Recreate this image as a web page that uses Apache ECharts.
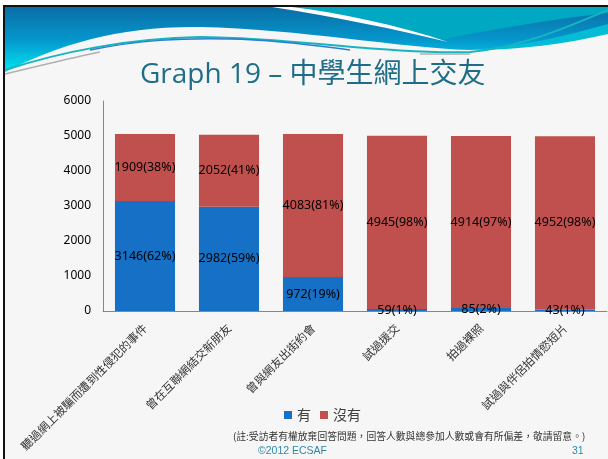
<!DOCTYPE html>
<html>
<head>
<meta charset="utf-8">
<title>Graph 19</title>
<script src="https://cdn.jsdelivr.net/npm/echarts@6/dist/echarts.min.js"></script>
<style>
  html, body { margin: 0; padding: 0; background: #fff; }
  #chart { width: 608px; height: 459px; }
</style>
</head>
<body>
<div id="chart"></div>
<script>
// categories (x axis)
const categories = [
  '聽過網上被騙而遭到性侵犯的事件',
  '曾在互聯網結交新朋友',
  '曾與網友出街約會',
  '試過援交',
  '拍過裸照',
  '試過與伴侶拍情慾短片'
]
// 有
const yesValues = [3146, 2982, 972, 59, 85, 43]
const yesPct = [62, 59, 19, 1, 2, 1]
// 沒有
const noValues = [1909, 2052, 4083, 4945, 4914, 4952]
const noPct = [38, 41, 81, 98, 97, 98]

const numFont = "'Noto Sans', 'Noto Sans CJK TC', sans-serif"
const cjkFont = "'Noto Sans CJK TC', 'Noto Sans', sans-serif"

// header decoration shapes (svg path data)
const wavePaths = {
  waveBand: 'M5 7 L608 7 L608 26 C560 38 520 48 470 50 C400 48 300 29 200 27 C120 26 60 44 5 72 Z',
  waveTeal: 'M283 7 L608 7 L608 13 C545 20 490 30 440 40 C395 28 340 15 283 7 Z',
  waveStreak: 'M272 7 C335 17 395 29 448 42 C398 25 340 13 292 7 Z',
  waveLow: 'M470 50 C520 47 565 36 608 24 L608 34 C565 44 520 50 470 50 Z',
  lineTeal: 'M5 70 C60 52 130 38 200 37 C300 38 380 54 470 52 C520 48 570 26 608 10',
  lineBlue: 'M90 50 C140 40 180 38 230 39 C280 40 320 46 350 50',
  lineGrayL: 'M5 74 C40 66 70 58 100 52',
  lineGrayR: 'M420 54 L470 54'
}
Object.keys(wavePaths).forEach(function(k) {
  echarts.graphic.registerShape(k, echarts.graphic.extendPath(wavePaths[k], {}))
})

const chart = echarts.init(document.getElementById('chart'))

function pctLabel(pcts) {
  return function(p) {
    return p.value + '(' + pcts[p.dataIndex] + '%)'
  }
}

chart.setOption({
  backgroundColor: '#f6f6f6',
  animation: false,
  title: {
    text: 'Graph 19 – 中學生網上交友',
    left: 135,
    top: 56,
    textStyle: {
      fontFamily: "'Open Sans', 'Noto Sans CJK TC', sans-serif",
      fontSize: 28,
      fontWeight: 'normal',
      color: '#1f6d88'
    }
  },
  legend: {
    data: ['有', '沒有'],
    left: 279,
    top: 403,
    icon: 'rect',
    itemWidth: 8,
    itemHeight: 8,
    itemGap: 9,
    textStyle: { fontFamily: cjkFont, fontSize: 14, color: '#404040' }
  },
  grid: {
    left: 103,
    right: 1,
    top: 101,
    bottom: 148
  },
  xAxis: {
    type: 'category',
    data: categories,
    axisLine: { lineStyle: { color: '#868686' } },
    axisTick: { show: false },
    axisLabel: {
      interval: 0,
      rotate: 45,
      margin: 15,
      fontFamily: cjkFont,
      fontSize: 11.5,
      color: '#333'
    }
  },
  yAxis: {
    type: 'value',
    min: 0,
    max: 6000,
    interval: 1000,
    axisLine: { show: true, lineStyle: { color: '#868686' } },
    axisTick: { show: false },
    splitLine: { show: false },
    axisLabel: {
      margin: 12,
      fontFamily: numFont,
      fontSize: 12,
      color: '#000',
      formatter: function(v) { return String(v) }
    }
  },
  series: [{
    name: '有',
    type: 'bar',
    stack: 'total',
    barCategoryGap: '28.5%',
    itemStyle: { color: '#1570c6' },
    label: {
      show: true,
      position: 'inside',
      color: '#000',
      fontFamily: numFont,
      fontSize: 12.5,
      formatter: pctLabel(yesPct)
    },
    data: yesValues
  }, {
    name: '沒有',
    type: 'bar',
    stack: 'total',
    barCategoryGap: '28.5%',
    itemStyle: { color: '#c0504d' },
    label: {
      show: true,
      position: 'inside',
      color: '#000',
      fontFamily: numFont,
      fontSize: 12.5,
      formatter: pctLabel(noPct)
    },
    data: noValues
  }],
  graphic: [
    // page edge and slide frame
    { type: 'rect', shape: { x: 0, y: 0, width: 608, height: 5 }, style: { fill: '#fff' }, z: -10 },
    { type: 'rect', shape: { x: 0, y: 0, width: 3, height: 459 }, style: { fill: '#fff' }, z: -10 },
    { type: 'rect', shape: { x: 3, y: 5, width: 605, height: 2 }, style: { fill: '#111' }, z: -10 },
    { type: 'rect', shape: { x: 3, y: 5, width: 2, height: 454 }, style: { fill: '#111' }, z: -10 },
    // header wave
    {
      type: 'waveBand',
      z: -9,
      style: {
        fill: new echarts.graphic.LinearGradient(0, 0, 0, 1, [
          { offset: 0, color: '#0a6ea5' },
          { offset: 0.5, color: '#0596cc' },
          { offset: 1, color: '#00e6f2' }
        ])
      }
    },
    { type: 'waveTeal', z: -8, style: { fill: '#00a8c2' } },
    { type: 'waveStreak', z: -7, style: { fill: '#ffffff' } },
    { type: 'waveLow', z: -8, style: { fill: '#05bcd6' } },
    { type: 'lineTeal', z: -6, style: { fill: null, stroke: '#18b4c0', lineWidth: 2 } },
    { type: 'lineBlue', z: -6, style: { fill: null, stroke: '#2b7fd0', lineWidth: 1.5 } },
    { type: 'lineGrayL', z: -6, style: { fill: null, stroke: '#b0b0b0', lineWidth: 1.5 } },
    { type: 'lineGrayR', z: -6, style: { fill: null, stroke: '#b0b0b0', lineWidth: 1.5 } },
    // footnote
    {
      type: 'text',
      left: 233,
      top: 431,
      style: {
        text: '(註:受訪者有權放棄回答問題，回答人數與總參加人數或會有所偏差，敬請留意。)',
        fontFamily: cjkFont,
        fontSize: 9.8,
        fill: '#333'
      }
    },
    {
      type: 'text',
      left: 258,
      top: 446,
      style: { text: '©2012 ECSAF', fontFamily: "'Liberation Sans', Arial, sans-serif", fontSize: 10.5, fill: '#2b8aa6' }
    },
    {
      type: 'text',
      left: 572,
      top: 446,
      style: { text: '31', fontFamily: "'Liberation Sans', Arial, sans-serif", fontSize: 10.5, fill: '#2b8aa6' }
    }
  ]
})
</script>
</body>
</html>
